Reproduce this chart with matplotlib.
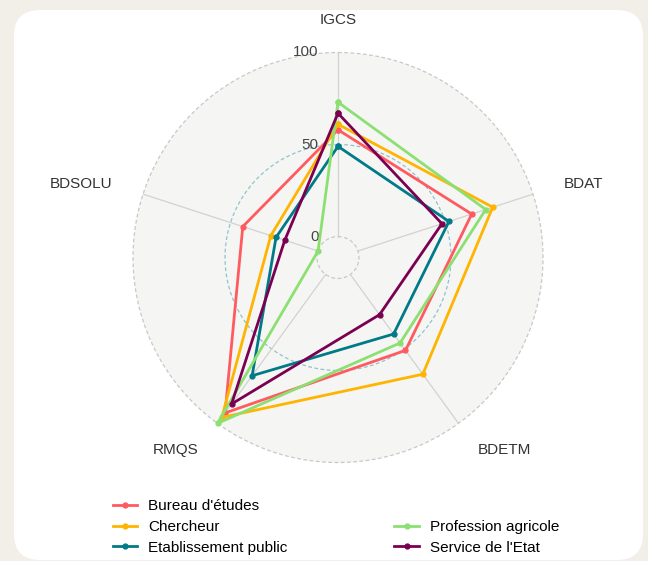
import numpy as np
import matplotlib.pyplot as plt
from matplotlib.patches import FancyBboxPatch
from matplotlib.lines import Line2D
from matplotlib.transforms import IdentityTransform

plt.rcParams['font.family'] = ['Liberation Sans', 'DejaVu Sans']

# axes of the radar, clockwise from the top
axes_names = ['IGCS', 'BDAT', 'BDETM', 'RMQS', 'BDSOLU']
grid_values = [0, 50, 100]

# one list per group, in the order of axes_names
bureau = [58, 65, 51, 93, 43]
chercheur = [61, 77, 67, 96, 27]
etablissement = [49, 52, 40, 68, 24]
profession = [73, 73, 46, 100, 0]
service = [67, 48, 27, 87, 19]

groups = ["Bureau d'études", 'Chercheur', 'Etablissement public',
          'Profession agricole', "Service de l'Etat"]
series = [bureau, chercheur, etablissement, profession, service]
colors = ['#FF5A5F', '#FFB400', '#007A87', '#8CE071', '#7B0051']

W, H = 648, 561
fig = plt.figure(figsize=(W / 100, H / 100), dpi=100)
fig.patch.set_facecolor('#F2EEE8')

# white card with rounded corners (pixel coords)
card = FancyBboxPatch((14, 1), 629, 550, boxstyle='round,pad=0,rounding_size=26',
                      transform=IdentityTransform(), facecolor='white',
                      edgecolor='none', zorder=-10)
fig.patches.append(card)

cx, cy, R = 338, 257.5, 205
ax = fig.add_axes([(cx - R) / W, (H - cy - R) / H, 2 * R / W, 2 * R / H],
                  projection='polar')
ax.set_theta_zero_location('N')
ax.set_theta_direction(-1)
# negative lower limit leaves the small hole in the middle
ax.set_ylim(-11.4, 100)
ax.set_facecolor('#F5F5F4')
for sp in ax.spines.values():
    sp.set_visible(False)
ax.grid(False)
ax.set_xticks([])
ax.set_yticks([])

angles = np.linspace(0, 2 * np.pi, len(axes_names), endpoint=False)
circle_t = np.linspace(0, 2 * np.pi, 361)

# grid circles
for v in grid_values:
    col = '#8FC3CB' if v == 50 else '#C8C8C8'
    ax.plot(circle_t, np.full_like(circle_t, v), color=col, lw=0.9,
            dashes=(3, 2), zorder=1, clip_on=False)

# spokes
for a in angles:
    ax.plot([a, a], [0, 100], color='#D2D2D2', lw=0.9, zorder=1)

# grid labels
for v in grid_values:
    ax.annotate(str(v), xy=(0, v), xytext=(-14, 0), textcoords='offset points',
                ha='right', va='center', fontsize=11, color='#444444',
                annotation_clip=False)

# axis labels
for a, name in zip(angles, axes_names):
    s = np.sin(a)
    ha = 'center' if abs(s) < 0.1 else ('left' if s > 0 else 'right')
    ax.text(a, 117.7, name, ha=ha, va='center', fontsize=11, color='#333333')

# data
handles = []
for vals, col, name in zip(series, colors, groups):
    t = np.append(angles, angles[0])
    r = np.append(vals, vals[0])
    ax.plot(t, r, color=col, lw=2.0, marker='o', markersize=3.5, zorder=3,
            clip_on=False)
    handles.append(Line2D([], [], color=col, lw=2.0, marker='o', markersize=3.5))

blank = Line2D([], [], color='none')
leg_handles = handles[:3] + [blank] + handles[3:]
leg_labels = groups[:3] + [''] + groups[3:]
fig.legend(leg_handles, leg_labels, ncol=2, loc='upper left',
           bbox_to_anchor=(113 / W, 1 - 499 / H), frameon=False, fontsize=11,
           handlelength=1.6, handletextpad=0.7, columnspacing=7.0,
           labelspacing=0.45, borderpad=0, borderaxespad=0)

fig.savefig('out.png', dpi=100, facecolor=fig.get_facecolor())
